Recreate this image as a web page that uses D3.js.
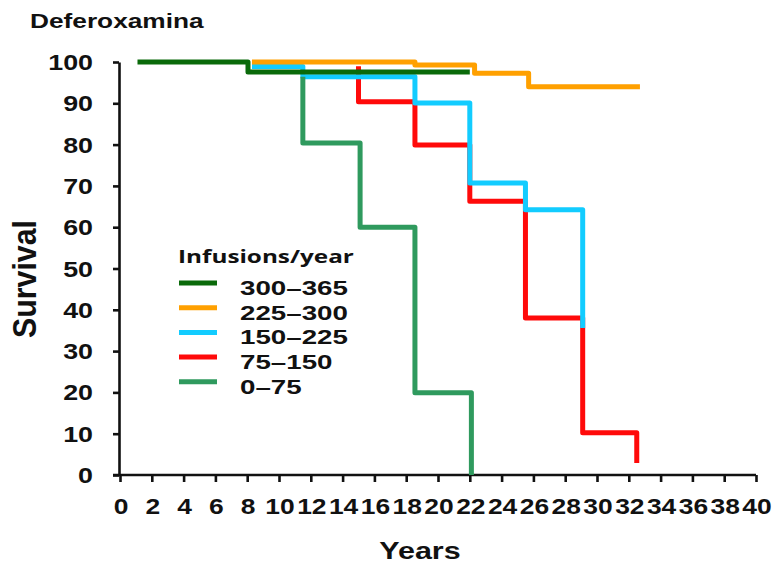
<!DOCTYPE html>
<html>
<head>
<meta charset="utf-8">
<script src="https://cdn.jsdelivr.net/npm/d3@7"></script>
<style>
  html, body { margin: 0; padding: 0; background: #fff; }
  svg { display: block; }
</style>
</head>
<body>
<svg id="chart" width="775" height="565"></svg>
<script>
// Kaplan–Meier style survival by deferoxamine infusions per year
const seriesNames = ["300–365", "225–300", "150–225", "75–150", "0–75"];
const seriesColors = ["#0a6a0a", "#ffa000", "#12ccff", "#ff0a0a", "#2f9a5e"];

// step curves: time (years) of each step and survival (%) from that time on
const timesHigh   = [1.1, 8.05, 22.0];
const survHigh    = [100, 97.6, 97.6];
const timesMidHi  = [8.3, 18.55, 22.3, 25.7, 32.7];
const survMidHi   = [100, 99.3, 97.3, 94.0, 94.0];
const timesMid    = [8.3, 11.5, 18.55, 22.0, 25.5, 29.1];
const survMid     = [98.9, 96.4, 90.1, 70.7, 64.2, 35.6];
const timesLowMid = [15.0, 15.0, 18.55, 22.0, 25.5, 29.1, 32.5];
const survLowMid  = [99, 90.4, 79.9, 66.3, 38.0, 10.2, 2.9];
const timesLow    = [11.5, 11.5, 15.1, 18.55, 22.1];
const survLow     = [96.4, 80.4, 60.0, 19.9, 0];

const xTicks = d3.range(0, 41, 2);
const yTicks = d3.range(0, 101, 10);

const allSeries = [
  { name: seriesNames[0], color: seriesColors[0], t: timesHigh,   s: survHigh },
  { name: seriesNames[1], color: seriesColors[1], t: timesMidHi,  s: survMidHi },
  { name: seriesNames[2], color: seriesColors[2], t: timesMid,    s: survMid },
  { name: seriesNames[3], color: seriesColors[3], t: timesLowMid, s: survLowMid },
  { name: seriesNames[4], color: seriesColors[4], t: timesLow,    s: survLow }
];
// drawing order: red, cyan, green, dark green, orange on top
const drawOrder = [3, 2, 4, 0, 1];

const svg = d3.select("#chart");
const x = d3.scaleLinear().domain([0, 40]).range([120, 756]);
const y = d3.scaleLinear().domain([0, 100]).range([475, 62]);

const FONT = "'Liberation Sans', Arial, sans-serif";

// text helper: horizontally widened bold lettering
function label(parent, px, py, str, size, sx, anchor, family) {
  const g = parent.append("g").attr("transform", `translate(${px},${py}) scale(${sx},1)`);
  return g.append("text")
    .attr("x", 0).attr("y", 0)
    .attr("text-anchor", anchor || "start")
    .style("font-family", family || FONT)
    .style("font-weight", "bold")
    .style("font-size", size + "px")
    .attr("fill", "#111")
    .text(str);
}

// axes
const axisStroke = 2.6;
const gx = svg.append("g").attr("transform", `translate(0,${y(0)})`)
  .call(d3.axisBottom(x).tickValues(xTicks).tickSize(7).tickSizeOuter(0).tickFormat(""));
const gy = svg.append("g").attr("transform", `translate(${x(0) - 1},0)`)
  .call(d3.axisLeft(y).tickValues(yTicks).tickSize(6).tickSizeOuter(0).tickFormat(""));
[gx, gy].forEach(g => {
  g.selectAll("path, line").attr("stroke", "#111").attr("stroke-width", axisStroke);
});
gx.select(".domain").attr("d", `M${x(0) - 7},0H${x(40)}`);

// tick labels
xTicks.forEach(v => label(svg, x(v) + 1, 514, String(v), 22, 1.2, "middle"));
yTicks.forEach(v => label(svg, 93, y(v) + 8, String(v), 22, 1.22, "end"));

// titles
label(svg, 30, 28, "Deferoxamina", 21, 1.25, "start");
label(svg, 420, 559, "Years", 24, 1.27, "middle");
{
  const g = svg.append("g").attr("transform", "translate(36,279) scale(1.25,1) rotate(-90)");
  g.append("text")
    .attr("text-anchor", "middle")
    .attr("textLength", 118).attr("lengthAdjust", "spacingAndGlyphs")
    .style("font-family", FONT).style("font-weight", "bold").style("font-size", "26px")
    .attr("fill", "#111").text("Survival");
}

// survival step curves
const line = d3.line()
  .x(d => x(d[0]))
  .y(d => y(d[1]))
  .curve(d3.curveStepAfter);

drawOrder.forEach(i => {
  const s = allSeries[i];
  const pts = s.t.map((t, k) => [t, s.s[k]]);
  svg.append("path")
    .datum(pts)
    .attr("d", line)
    .attr("fill", "none")
    .attr("stroke", s.color)
    .attr("stroke-width", 5)
    .attr("stroke-linejoin", "round");
});

// legend
const legend = svg.append("g");
label(legend, 178, 263, "Infusions/year", 18, 1.35, "start", "'Open Sans', Lato, sans-serif");
allSeries.forEach((s, i) => {
  const ly = 283 + i * 24.7;
  legend.append("line")
    .attr("x1", 179).attr("x2", 217).attr("y1", ly).attr("y2", ly)
    .attr("stroke", s.color).attr("stroke-width", 5);
  label(legend, 240, ly + 12, s.name, 21, 1.32, "start");
});
</script>
</body>
</html>
